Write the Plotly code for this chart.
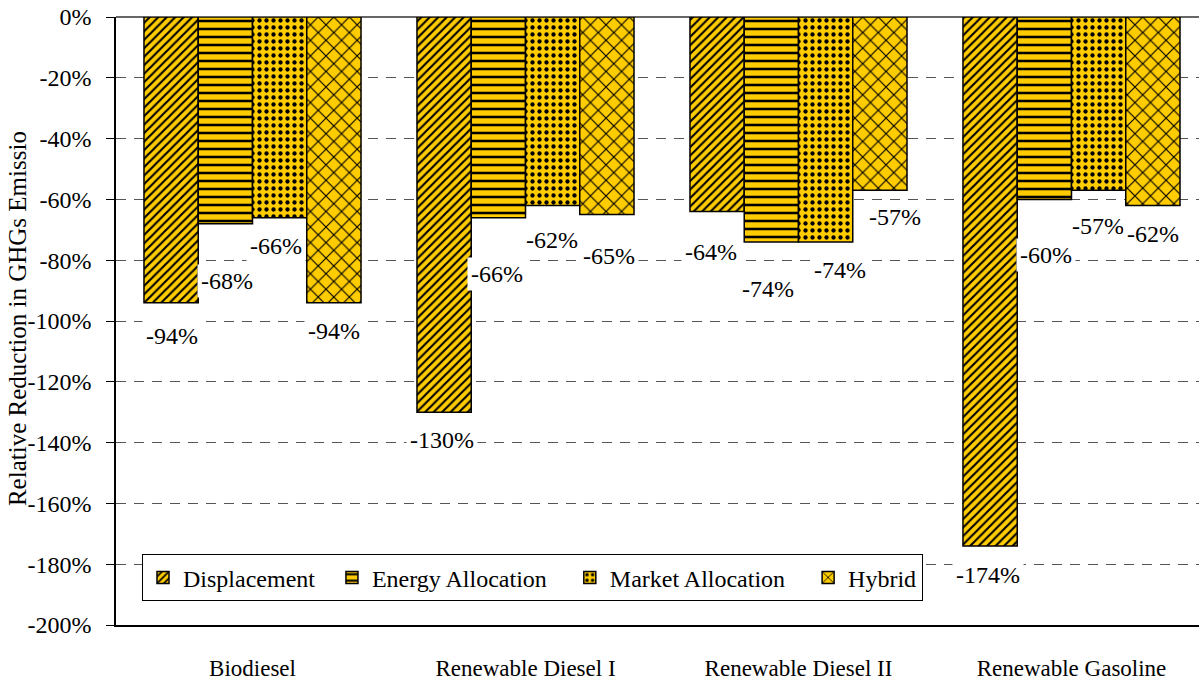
import plotly.graph_objects as go

# Fuel pathways and allocation methods
categories = ["Biodiesel", "Renewable Diesel I", "Renewable Diesel II", "Renewable Gasoline"]
methods = ["Displacement", "Energy Allocation", "Market Allocation", "Hybrid"]

# Relative reduction in GHG emissions (%), one list per method
displacement = [-94, -130, -64, -174]
energy_allocation = [-68, -66, -74, -60]
market_allocation = [-66, -62, -74, -57]
hybrid = [-94, -65, -57, -62]

y_ticks = [0, -20, -40, -60, -80, -100, -120, -140, -160, -180, -200]

series = [displacement, energy_allocation, market_allocation, hybrid]

GOLD = "#FFCC00"
FONT = "Liberation Serif"
NBSP = "\u00a0"

patterns = [
    dict(shape="/", size=6, solidity=0.35),
    dict(shape="-", size=8, solidity=0.32),
    dict(shape=".", size=7, solidity=0.3),
    dict(shape="x", size=11, solidity=0.2),
]

# extra spacing after each legend entry
legend_pad = [2, 3, 3, 0]

# label placement tweaks (px): vertical drop below the bar end and horizontal nudge
label_drop = [
    [33, 57, 28, 28],
    [28, 56, 35, 41],
    [40, 47, 28, 27],
    [29, 56, 36, 29],
]
label_nudge = [
    [1, 2, -4, 0],
    [-2, -1, -1, 2],
    [-6, -3, 14, 15],
    [-2, 2, -1, 0],
]

BARGAP = 0.205

fig = go.Figure()
for name, vals, pat, pad in zip(methods, series, patterns, legend_pad):
    fig.add_trace(go.Bar(
        name=name + NBSP * pad,
        x=categories,
        y=vals,
        marker=dict(
            color=GOLD,
            line=dict(color="black", width=1.5),
            pattern=dict(fgcolor="black", bgcolor=GOLD, fillmode="replace", **pat),
        ),
    ))

# value labels with white boxes, positioned from the bar values
bar_w = (1 - BARGAP) / len(methods)
annotations = []
for j, vals in enumerate(series):
    for i, v in enumerate(vals):
        annotations.append(dict(
            x=i + (j - (len(methods) - 1) / 2) * bar_w,
            y=v,
            xref="x", yref="y",
            text=f"{v}%",
            showarrow=False,
            yanchor="middle",
            xanchor="center",
            yshift=-label_drop[i][j],
            xshift=label_nudge[i][j],
            bgcolor="white",
            borderpad=3,
            font=dict(family=FONT, size=24, color="black"),
        ))

# rotated axis title
annotations.append(dict(
    text="Relative Reduction in GHGs Emissio",
    xref="paper", yref="paper",
    x=-(116 - 17) / 1083, y=(628 - 511) / 611,
    xanchor="center", yanchor="bottom",
    textangle=-90,
    showarrow=False,
    font=dict(family=FONT, size=25, color="black"),
))

fig.update_layout(
    width=1199, height=681,
    margin=dict(l=116, r=0, t=17, b=53),
    paper_bgcolor="white",
    plot_bgcolor="white",
    barmode="group",
    bargap=BARGAP,
    bargroupgap=0,
    font=dict(family=FONT, size=24, color="black"),
    showlegend=True,
    legend=dict(
        orientation="h",
        x=(142 - 116) / 1083, y=(628 - 557) / 611,
        xanchor="left", yanchor="top",
        bgcolor="white",
        bordercolor="black",
        borderwidth=1,
        font=dict(family=FONT, size=24, color="black"),
        traceorder="normal",
    ),
    annotations=annotations,
)

fig.update_xaxes(
    type="category",
    range=[-0.5, 3.5 - 9 / 273.3],
    showline=True, linecolor="black", linewidth=1.5,
    ticks="",
    ticklabelstandoff=22,
    showgrid=False,
    tickfont=dict(family=FONT, size=23, color="black"),
)

fig.update_yaxes(
    range=[-200, 0],
    tickvals=y_ticks,
    ticktext=[f"{t}%" for t in y_ticks],
    showline=True, linecolor="black", linewidth=1.5,
    ticks="outside", ticklen=8, tickcolor="black", tickwidth=1,
    ticklabelstandoff=10,
    showgrid=True, gridcolor="#555555", gridwidth=1, griddash="10px,8px",
    zeroline=True, zerolinecolor="#666666", zerolinewidth=2,
    tickfont=dict(family=FONT, size=24, color="black"),
)

fig.write_html("out.html")
